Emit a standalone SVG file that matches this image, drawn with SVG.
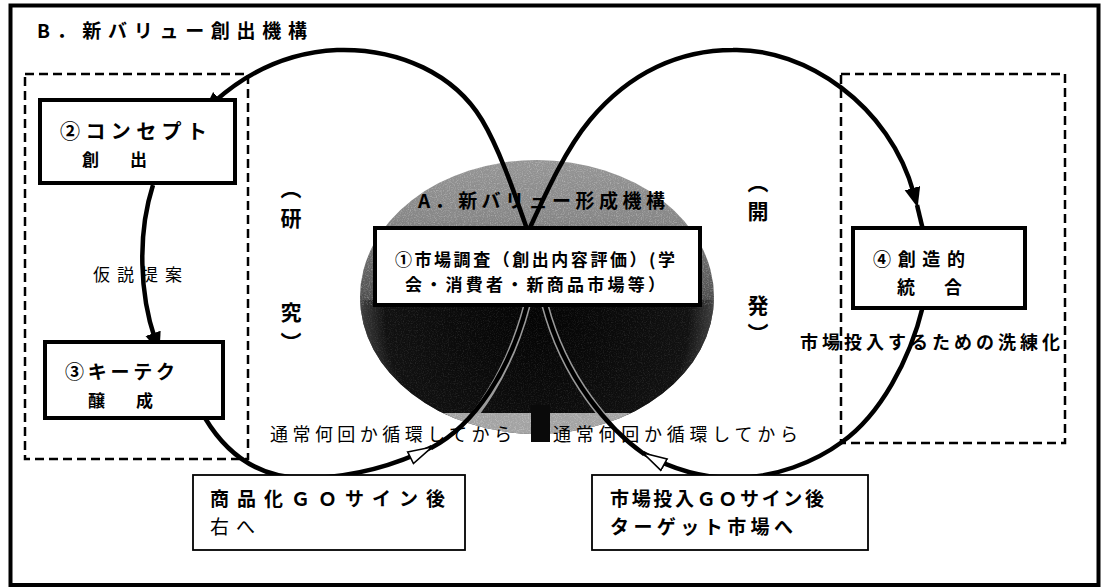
<svg xmlns="http://www.w3.org/2000/svg" width="1102" height="588" viewBox="0 0 1102 588">
<style>
text{font-family:'Noto Sans CJK JP','Noto Sans',sans-serif;fill:#000}
.b{font-weight:bold}
.n{font-weight:normal}
.dash{fill:none;stroke:#000;stroke-width:2.5;stroke-dasharray:9 5}
.box{fill:#fff;stroke:#000;stroke-width:4}
.thin{fill:#fff;stroke:#000;stroke-width:1.8}
.loop{fill:none;stroke:#000;stroke-width:4.5}
.halo{fill:none;stroke:#9a9a9a;stroke-width:7.5}
</style>
<defs>
<marker id="ah" markerUnits="userSpaceOnUse" markerWidth="22" markerHeight="18" refX="6" refY="8" orient="auto">
<path d="M0,0 L20,8 L0,16 z" fill="#000"/>
</marker>
<marker id="ao" markerUnits="userSpaceOnUse" markerWidth="28" markerHeight="18" refX="25" refY="8" orient="auto">
<path d="M1,1.5 L25,8 L1,14.5 z" fill="#fff" stroke="#000" stroke-width="1.6"/>
</marker>
<clipPath id="ellClip"><ellipse cx="537" cy="297" rx="177" ry="137"/></clipPath>
<clipPath id="lowClip"><rect x="350" y="305" width="380" height="108"/></clipPath>
<radialGradient id="darkG" cx="537" cy="315" r="185" gradientUnits="userSpaceOnUse">
<stop offset="0" stop-color="#040404"/>
<stop offset="0.82" stop-color="#111"/>
<stop offset="0.94" stop-color="#3a3a3a"/>
<stop offset="1" stop-color="#7a7a7a"/>
</radialGradient>
<linearGradient id="capG" x1="0" y1="160" x2="0" y2="305" gradientUnits="userSpaceOnUse">
<stop offset="0" stop-color="#959595"/>
<stop offset="0.4" stop-color="#878787"/>
<stop offset="1" stop-color="#4a4a4a"/>
</linearGradient>
<filter id="grain" x="0" y="0" width="100%" height="100%">
<feTurbulence type="fractalNoise" baseFrequency="0.85" numOctaves="2" seed="4"/>
<feColorMatrix type="matrix" values="0 0 0 0 1  0 0 0 0 1  0 0 0 0 1  2.6 0 0 0 -1.2"/>
</filter>
</defs>

<rect x="0" y="0" width="1102" height="588" fill="#fff"/>
<rect id="frame" x="10.5" y="5.5" width="1088" height="579.5" fill="none" stroke="#000" stroke-width="4"/>
<text id="title" class="b" x="37" y="38" font-size="19" textLength="270" lengthAdjust="spacing">B．新バリュー創出機構</text>

<g id="research-area"><rect class="dash" x="25" y="74" width="223" height="385"/></g>
<g id="dev-area"><rect class="dash" x="841" y="74" width="224" height="369"/></g>

<g id="sphere">
<g clip-path="url(#ellClip)">
<rect x="355" y="155" width="365" height="290" fill="url(#capG)"/>
<rect x="355" y="300" width="365" height="115" fill="url(#darkG)"/>
<rect x="355" y="413" width="365" height="25" fill="#a3a3a3"/>
<rect x="355" y="155" width="365" height="150" filter="url(#grain)" opacity="0.3"/>
<rect x="355" y="305" width="365" height="108" filter="url(#grain)" opacity="0.1"/>
<rect x="355" y="413" width="365" height="30" filter="url(#grain)" opacity="0.3"/>
</g>
<rect x="531" y="405" width="19" height="37" fill="#0a0a0a"/>
<text class="b" x="418" y="208" font-size="19" fill="#1a1a1a" textLength="247" lengthAdjust="spacing">A．新バリュー形成機構</text>
</g>

<g id="labels-vertical" class="b" font-size="21" text-anchor="middle">
<text x="291" y="196">︵</text>
<text x="291" y="226">研</text>
<text x="291" y="320">究</text>
<text x="291" y="350">︶</text>
<text x="758" y="190">︵</text>
<text x="758" y="219">開</text>
<text x="758" y="313">発</text>
<text x="758" y="341">︶</text>
</g>

<g id="halos" clip-path="url(#lowClip)">
<path class="halo" d="M440,448 C475,425 510,370 527,305"/>
<path class="halo" d="M643,453 C610,430 565,380 545,305"/>
</g>

<g id="connectors">
<path class="loop" d="M528,232 C515,195 500,150 482,120 C455,75 400,48 337,50 C295,52 252,68 214,102" marker-end="url(#ah)"/>
<path class="loop" d="M153,185 C137,235 140,295 155,339" marker-end="url(#ah)"/>
<path class="loop" d="M205,418 C235,468 275,480 313,478 C360,476 400,463 432,447" marker-end="url(#ao)"/>
<path class="loop" d="M431,448 C475,425 510,370 527,305"/>
<path class="loop" d="M528,232 C545,195 565,150 590,120 C630,72 680,50 733,50 C805,48 890,105 914,194" marker-end="url(#ah)"/>
<path class="loop" d="M917,205 L923,230"/>
<path class="loop" d="M923,306 C910,360 880,415 842,442 C815,462 775,478 733,478 C700,478 670,468 643,453" marker-end="url(#ao)"/>
<path class="loop" d="M644,454 C610,430 565,380 545,305"/>
</g>

<g id="n1">
<rect class="box" x="375" y="228" width="325" height="77" stroke-width="3.5"/>
<text class="b" x="395" y="266" font-size="17" textLength="280" lengthAdjust="spacing">①市場調査（創出内容評価）(学</text>
<text class="b" x="405" y="291" font-size="17" textLength="260" lengthAdjust="spacing">会・消費者・新商品市場等）</text>
</g>

<g id="n2">
<rect class="box" x="40" y="100" width="195" height="83"/>
<text class="b" x="60" y="139" font-size="20" textLength="147" lengthAdjust="spacing">②コンセプト</text>
<text class="b" x="82" y="166" font-size="17" textLength="65" lengthAdjust="spacing">創　出</text>
</g>

<g id="n3">
<rect class="box" x="45" y="342" width="178" height="76"/>
<text class="b" x="65" y="379" font-size="19" textLength="110" lengthAdjust="spacing">③キーテク</text>
<text class="b" x="88" y="407" font-size="17" textLength="65" lengthAdjust="spacing">醸　成</text>
</g>

<g id="n4">
<rect class="box" x="853" y="228" width="172" height="80"/>
<text class="b" x="873" y="266" font-size="18" textLength="92" lengthAdjust="spacing">④創造的</text>
<text class="b" x="897" y="294" font-size="18" textLength="65" lengthAdjust="spacing">統　合</text>
</g>

<g id="texts">
<text class="n" x="93" y="281" font-size="17" textLength="89" lengthAdjust="spacing">仮説提案</text>
<text class="b" x="800" y="349" font-size="18" textLength="260" lengthAdjust="spacing">市場投入するための洗練化</text>
<text class="n" x="270" y="441" font-size="18" textLength="242" lengthAdjust="spacing">通常何回か循環してから</text>
<text class="n" x="553" y="441" font-size="18" textLength="245" lengthAdjust="spacing">通常何回か循環してから</text>
</g>

<g id="n5">
<rect class="thin" x="193" y="475" width="272" height="75"/>
<text class="b" x="210" y="506" font-size="19" textLength="235" lengthAdjust="spacing">商品化ＧＯサイン後</text>
<text class="n" x="210" y="534" font-size="19" textLength="45" lengthAdjust="spacing">右へ</text>
</g>

<g id="n6">
<rect class="thin" x="592" y="475" width="276" height="75"/>
<text class="b" x="610" y="506" font-size="19" textLength="214" lengthAdjust="spacing">市場投入ＧＯサイン後</text>
<text class="b" x="610" y="534" font-size="19" textLength="183" lengthAdjust="spacing">ターゲット市場へ</text>
</g>
</svg>
